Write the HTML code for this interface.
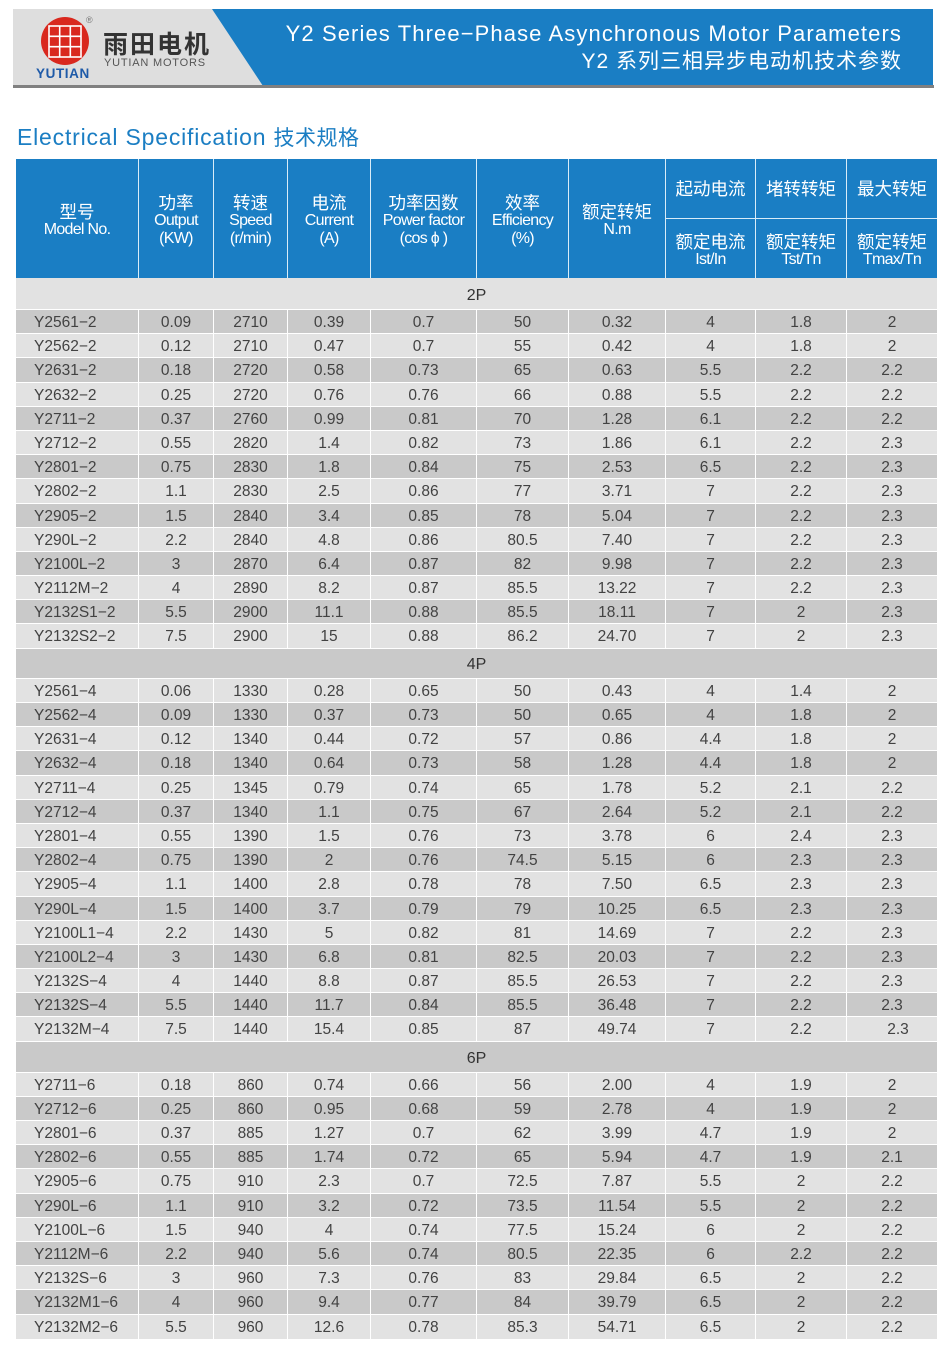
<!DOCTYPE html>
<html><head><meta charset="utf-8">
<style>
html,body{margin:0;padding:0;background:#fff;}
body{width:943px;height:1357px;position:relative;overflow:hidden;font-family:"Liberation Sans","Noto Sans CJK SC",sans-serif;}
.title{position:absolute;left:17px;top:122px;font-size:23px;letter-spacing:0.8px;color:#1b7ec3;white-space:nowrap;line-height:30px;}
.title .cn{font-size:21px;letter-spacing:0.5px;}
.h{position:absolute;left:16px;top:159px;width:921px;height:119px;background:#1a7ec4;color:#fff;}
.h .c{position:absolute;top:0;height:119px;box-sizing:border-box;border-right:1px solid #d8ecf8;display:flex;flex-direction:column;align-items:center;justify-content:center;text-align:center;line-height:18px;padding-top:5px;}
.h .zh{font-size:17.5px;}
.h .en{font-size:16px;letter-spacing:-0.7px;white-space:nowrap;}
.h .g{position:absolute;box-sizing:border-box;border-right:1px solid #d8ecf8;display:flex;flex-direction:column;align-items:center;justify-content:center;text-align:center;line-height:18px;}
.h .gt{top:0;height:59px;padding-top:1px;}
.h .gb{top:59px;height:60px;border-top:1px solid #d8ecf8;padding-top:4px;}
.t{position:absolute;left:16px;top:278px;width:921px;}
.r{display:flex;height:24.2px;box-sizing:border-box;border-bottom:1px solid #fff;font-size:15.5px;line-height:25px;color:#424242;white-space:nowrap;}
.r span{display:block;box-sizing:border-box;border-right:1px solid #fff;text-align:center;flex:none;}
.r span:last-child{border-right:none;}
.r span:nth-child(1){width:123px;text-align:left;padding-left:18px;}
.r span:nth-child(2){width:75px;}
.r span:nth-child(3){width:74px;}
.r span:nth-child(4){width:83px;}
.r span:nth-child(5){width:106px;}
.r span:nth-child(6){width:92px;}
.r span:nth-child(7){width:97px;}
.r span:nth-child(8){width:90px;}
.r span:nth-child(9){width:91px;}
.r span:nth-child(10){width:90px;}
.d{background:#c9c9c9;}
.l{background:#e2e2e2;}
.b{box-sizing:border-box;text-align:center;font-size:16px;color:#333;border-bottom:1px solid #fff;}
</style></head><body>

<svg width="943" height="100" style="position:absolute;left:0;top:0" xmlns="http://www.w3.org/2000/svg">
  <rect x="13" y="9" width="920" height="77" fill="#dedede"/>
  <polygon points="212,9 933,9 933,86 263,86" fill="#1a7ec4"/>
  <rect x="13" y="85" width="921" height="3" fill="#808080"/>
  <circle cx="65" cy="41" r="24" fill="#d9281e"/>
  <g stroke="#fff" stroke-width="1.6" fill="none">
    <rect x="49" y="26" width="32" height="31"/>
    <line x1="59.7" y1="26" x2="59.7" y2="57"/>
    <line x1="70.3" y1="26" x2="70.3" y2="57"/>
    <line x1="49" y1="36.3" x2="81" y2="36.3"/>
    <line x1="49" y1="46.7" x2="81" y2="46.7"/>
  </g>
  <text x="86" y="23" font-size="9" fill="#777" font-family="Liberation Sans, sans-serif">®</text>
  <text x="36" y="78" font-size="13.5" font-weight="bold" letter-spacing="0.6" fill="#1e5aa8" font-family="Liberation Sans, sans-serif">YUTIAN</text>
  <text x="103" y="53" font-size="25" letter-spacing="2" fill="#333" font-weight="bold" font-family="Noto Sans CJK SC, sans-serif">雨田电机</text>
  <text x="104" y="66" font-size="11" letter-spacing="0.8" fill="#555" font-family="Liberation Sans, sans-serif">YUTIAN MOTORS</text>
  <text x="902" y="41" font-size="22" letter-spacing="1.1" text-anchor="end" fill="#fff" font-family="Liberation Sans, sans-serif">Y2 Series Three−Phase Asynchronous Motor Parameters</text>
  <text x="902" y="68" font-size="21" letter-spacing="1" text-anchor="end" fill="#fff" font-family="Liberation Sans, Noto Sans CJK SC, sans-serif">Y2 系列三相异步电动机技术参数</text>
</svg>

<div class="title">Electrical Specification <span class="cn">技术规格</span></div>

<div class="h">
  <div class="c" style="left:0;width:123px;"><div class="zh">型号</div><div class="en">Model No.</div></div>
  <div class="c" style="left:123px;width:75px;"><div class="zh">功率</div><div class="en">Output</div><div class="en">(KW)</div></div>
  <div class="c" style="left:198px;width:74px;"><div class="zh">转速</div><div class="en">Speed</div><div class="en">(r/min)</div></div>
  <div class="c" style="left:272px;width:83px;"><div class="zh">电流</div><div class="en">Current</div><div class="en">(A)</div></div>
  <div class="c" style="left:355px;width:106px;"><div class="zh">功率因数</div><div class="en">Power factor</div><div class="en">(cos &#981; )</div></div>
  <div class="c" style="left:461px;width:92px;"><div class="zh">效率</div><div class="en">Efficiency</div><div class="en">(%)</div></div>
  <div class="c" style="left:553px;width:97px;"><div class="zh">额定转矩</div><div class="en">N.m</div></div>
  <div class="g gt" style="left:650px;width:90px;"><div class="zh">起动电流</div></div>
  <div class="g gt" style="left:740px;width:91px;"><div class="zh">堵转转矩</div></div>
  <div class="g gt" style="left:831px;width:90px;border-right:none;"><div class="zh">最大转矩</div></div>
  <div class="g gb" style="left:650px;width:90px;"><div class="zh">额定电流</div><div class="en">Ist/In</div></div>
  <div class="g gb" style="left:740px;width:91px;"><div class="zh">额定转矩</div><div class="en">Tst/Tn</div></div>
  <div class="g gb" style="left:831px;width:90px;border-right:none;"><div class="zh">额定转矩</div><div class="en">Tmax/Tn</div></div>
</div>

<div class="t">
<div class="b l" style="height:32px;line-height:35px;">2P</div>
<div class="r d"><span>Y2561−2</span><span>0.09</span><span>2710</span><span>0.39</span><span>0.7</span><span>50</span><span>0.32</span><span>4</span><span>1.8</span><span>2</span></div>
<div class="r l"><span>Y2562−2</span><span>0.12</span><span>2710</span><span>0.47</span><span>0.7</span><span>55</span><span>0.42</span><span>4</span><span>1.8</span><span>2</span></div>
<div class="r d"><span>Y2631−2</span><span>0.18</span><span>2720</span><span>0.58</span><span>0.73</span><span>65</span><span>0.63</span><span>5.5</span><span>2.2</span><span>2.2</span></div>
<div class="r l"><span>Y2632−2</span><span>0.25</span><span>2720</span><span>0.76</span><span>0.76</span><span>66</span><span>0.88</span><span>5.5</span><span>2.2</span><span>2.2</span></div>
<div class="r d"><span>Y2711−2</span><span>0.37</span><span>2760</span><span>0.99</span><span>0.81</span><span>70</span><span>1.28</span><span>6.1</span><span>2.2</span><span>2.2</span></div>
<div class="r l"><span>Y2712−2</span><span>0.55</span><span>2820</span><span>1.4</span><span>0.82</span><span>73</span><span>1.86</span><span>6.1</span><span>2.2</span><span>2.3</span></div>
<div class="r d"><span>Y2801−2</span><span>0.75</span><span>2830</span><span>1.8</span><span>0.84</span><span>75</span><span>2.53</span><span>6.5</span><span>2.2</span><span>2.3</span></div>
<div class="r l"><span>Y2802−2</span><span>1.1</span><span>2830</span><span>2.5</span><span>0.86</span><span>77</span><span>3.71</span><span>7</span><span>2.2</span><span>2.3</span></div>
<div class="r d"><span>Y2905−2</span><span>1.5</span><span>2840</span><span>3.4</span><span>0.85</span><span>78</span><span>5.04</span><span>7</span><span>2.2</span><span>2.3</span></div>
<div class="r l"><span>Y290L−2</span><span>2.2</span><span>2840</span><span>4.8</span><span>0.86</span><span>80.5</span><span>7.40</span><span>7</span><span>2.2</span><span>2.3</span></div>
<div class="r d"><span>Y2100L−2</span><span>3</span><span>2870</span><span>6.4</span><span>0.87</span><span>82</span><span>9.98</span><span>7</span><span>2.2</span><span>2.3</span></div>
<div class="r l"><span>Y2112M−2</span><span>4</span><span>2890</span><span>8.2</span><span>0.87</span><span>85.5</span><span>13.22</span><span>7</span><span>2.2</span><span>2.3</span></div>
<div class="r d"><span>Y2132S1−2</span><span>5.5</span><span>2900</span><span>11.1</span><span>0.88</span><span>85.5</span><span>18.11</span><span>7</span><span>2</span><span>2.3</span></div>
<div class="r l"><span>Y2132S2−2</span><span>7.5</span><span>2900</span><span>15</span><span>0.88</span><span>86.2</span><span>24.70</span><span>7</span><span>2</span><span>2.3</span></div>

<div class="b d" style="height:30.2px;line-height:32px;">4P</div>
<div class="r l"><span>Y2561−4</span><span>0.06</span><span>1330</span><span>0.28</span><span>0.65</span><span>50</span><span>0.43</span><span>4</span><span>1.4</span><span>2</span></div>
<div class="r d"><span>Y2562−4</span><span>0.09</span><span>1330</span><span>0.37</span><span>0.73</span><span>50</span><span>0.65</span><span>4</span><span>1.8</span><span>2</span></div>
<div class="r l"><span>Y2631−4</span><span>0.12</span><span>1340</span><span>0.44</span><span>0.72</span><span>57</span><span>0.86</span><span>4.4</span><span>1.8</span><span>2</span></div>
<div class="r d"><span>Y2632−4</span><span>0.18</span><span>1340</span><span>0.64</span><span>0.73</span><span>58</span><span>1.28</span><span>4.4</span><span>1.8</span><span>2</span></div>
<div class="r l"><span>Y2711−4</span><span>0.25</span><span>1345</span><span>0.79</span><span>0.74</span><span>65</span><span>1.78</span><span>5.2</span><span>2.1</span><span>2.2</span></div>
<div class="r d"><span>Y2712−4</span><span>0.37</span><span>1340</span><span>1.1</span><span>0.75</span><span>67</span><span>2.64</span><span>5.2</span><span>2.1</span><span>2.2</span></div>
<div class="r l"><span>Y2801−4</span><span>0.55</span><span>1390</span><span>1.5</span><span>0.76</span><span>73</span><span>3.78</span><span>6</span><span>2.4</span><span>2.3</span></div>
<div class="r d"><span>Y2802−4</span><span>0.75</span><span>1390</span><span>2</span><span>0.76</span><span>74.5</span><span>5.15</span><span>6</span><span>2.3</span><span>2.3</span></div>
<div class="r l"><span>Y2905−4</span><span>1.1</span><span>1400</span><span>2.8</span><span>0.78</span><span>78</span><span>7.50</span><span>6.5</span><span>2.3</span><span>2.3</span></div>
<div class="r d"><span>Y290L−4</span><span>1.5</span><span>1400</span><span>3.7</span><span>0.79</span><span>79</span><span>10.25</span><span>6.5</span><span>2.3</span><span>2.3</span></div>
<div class="r l"><span>Y2100L1−4</span><span>2.2</span><span>1430</span><span>5</span><span>0.82</span><span>81</span><span>14.69</span><span>7</span><span>2.2</span><span>2.3</span></div>
<div class="r d"><span>Y2100L2−4</span><span>3</span><span>1430</span><span>6.8</span><span>0.81</span><span>82.5</span><span>20.03</span><span>7</span><span>2.2</span><span>2.3</span></div>
<div class="r l"><span>Y2132S−4</span><span>4</span><span>1440</span><span>8.8</span><span>0.87</span><span>85.5</span><span>26.53</span><span>7</span><span>2.2</span><span>2.3</span></div>
<div class="r d"><span>Y2132S−4</span><span>5.5</span><span>1440</span><span>11.7</span><span>0.84</span><span>85.5</span><span>36.48</span><span>7</span><span>2.2</span><span>2.3</span></div>
<div class="r l"><span>Y2132M−4</span><span>7.5</span><span>1440</span><span>15.4</span><span>0.85</span><span>87</span><span>49.74</span><span>7</span><span>2.2</span><span style="padding-left:12px;">2.3</span></div>

<div class="b d" style="height:31px;line-height:33px;">6P</div>
<div class="r l"><span>Y2711−6</span><span>0.18</span><span>860</span><span>0.74</span><span>0.66</span><span>56</span><span>2.00</span><span>4</span><span>1.9</span><span>2</span></div>
<div class="r d"><span>Y2712−6</span><span>0.25</span><span>860</span><span>0.95</span><span>0.68</span><span>59</span><span>2.78</span><span>4</span><span>1.9</span><span>2</span></div>
<div class="r l"><span>Y2801−6</span><span>0.37</span><span>885</span><span>1.27</span><span>0.7</span><span>62</span><span>3.99</span><span>4.7</span><span>1.9</span><span>2</span></div>
<div class="r d"><span>Y2802−6</span><span>0.55</span><span>885</span><span>1.74</span><span>0.72</span><span>65</span><span>5.94</span><span>4.7</span><span>1.9</span><span>2.1</span></div>
<div class="r l"><span>Y2905−6</span><span>0.75</span><span>910</span><span>2.3</span><span>0.7</span><span>72.5</span><span>7.87</span><span>5.5</span><span>2</span><span>2.2</span></div>
<div class="r d"><span>Y290L−6</span><span>1.1</span><span>910</span><span>3.2</span><span>0.72</span><span>73.5</span><span>11.54</span><span>5.5</span><span>2</span><span>2.2</span></div>
<div class="r l"><span>Y2100L−6</span><span>1.5</span><span>940</span><span>4</span><span>0.74</span><span>77.5</span><span>15.24</span><span>6</span><span>2</span><span>2.2</span></div>
<div class="r d"><span>Y2112M−6</span><span>2.2</span><span>940</span><span>5.6</span><span>0.74</span><span>80.5</span><span>22.35</span><span>6</span><span>2.2</span><span>2.2</span></div>
<div class="r l"><span>Y2132S−6</span><span>3</span><span>960</span><span>7.3</span><span>0.76</span><span>83</span><span>29.84</span><span>6.5</span><span>2</span><span>2.2</span></div>
<div class="r d"><span>Y2132M1−6</span><span>4</span><span>960</span><span>9.4</span><span>0.77</span><span>84</span><span>39.79</span><span>6.5</span><span>2</span><span>2.2</span></div>
<div class="r l" style="border-bottom:none;"><span>Y2132M2−6</span><span>5.5</span><span>960</span><span>12.6</span><span>0.78</span><span>85.3</span><span>54.71</span><span>6.5</span><span>2</span><span>2.2</span></div>
</div>

</body></html>
